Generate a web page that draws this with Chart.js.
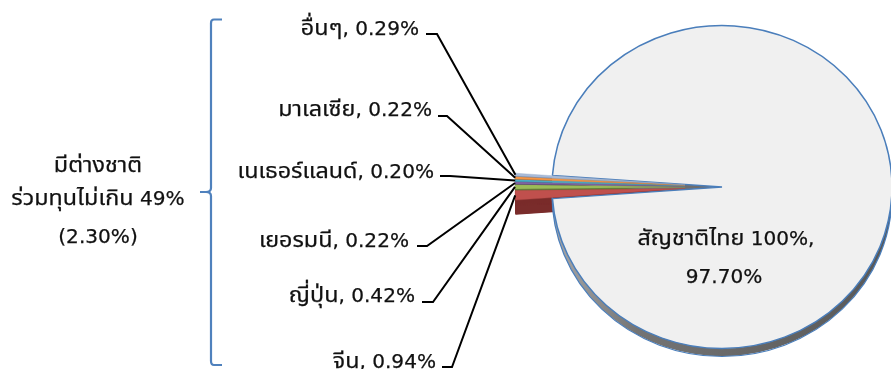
<!DOCTYPE html>
<html><head><meta charset="utf-8">
<script src="https://cdn.jsdelivr.net/npm/chart.js@4.4.1/dist/chart.umd.min.js"></script>
<style>html,body{margin:0;padding:0;background:#fff;overflow:hidden}#wrap{width:891px;height:369px;position:relative}</style>
</head><body><div id="wrap"><canvas id="c" width="891" height="369"></canvas></div>
<script>
// ---- data ----
const categories = ['สัญชาติไทย 100%', 'จีน', 'ญี่ปุ่น', 'เยอรมนี', 'เนเธอร์แลนด์', 'มาเลเซีย', 'อื่นๆ'];
const shares = [97.70, 0.94, 0.42, 0.22, 0.20, 0.22, 0.29];
const groupTitle = ['มีต่างชาติ', 'ร่วมทุนไม่เกิน 49%', '(2.30%)'];

// ---- styling / layout ----
const sliceColors = ['#f0f0f0', '#c0504d', '#9bbb59', '#8064a2', '#4bacc6', '#f79646', '#a9bbd8'];
const depthColors = [null, '#7a2c2b', '#5f7636', '#4e3d64', '#2f6c7c', '#9a5c2a', '#6b7c98'];
const THAI_FONT = '"Noto Sans Thai", "Noto Sans", "DejaVu Sans", sans-serif';
const LATIN_FONT = '"DejaVu Sans", "Noto Sans", sans-serif';
const RUN_STYLE = {thai: {size: 22, h: 1.06, family: THAI_FONT}, latin: {size: 19.5, h: 1.03, family: LATIN_FONT}};
const SQUASH = 0.95, DEPTH = 8, WEDGE_DEPTH = 15, EXPLODE = 37;
// label layout for slices 1..6: right edge x, baseline y, leader tick x1,x2,y
const labelLayout = {
  1: {x: 436, y: 368, t1: 442, t2: 452, ty: 367},
  2: {x: 415, y: 302, t1: 422, t2: 433, ty: 302},
  3: {x: 409, y: 247, t1: 417, t2: 427, ty: 246},
  4: {x: 434, y: 178, t1: 440, t2: 450, ty: 176},
  5: {x: 432, y: 116, t1: 438, t2: 447, ty: 116},
  6: {x: 419, y: 35,  t1: 426, t2: 437, ty: 34}
};
const titleLayout = {x: 98, y: [172, 205, 243]};

const total = shares.reduce((a, b) => a + b, 0);
const rotation = 270 - (shares[0] + (total - shares[0]) / 2) / total * 360;

function explodeOf(i) { return i === 0 ? 0 : EXPLODE; }

function arcGeom(arc, i) {
  const e = explodeOf(i);
  const mid = (arc.startAngle + arc.endAngle) / 2;
  return {x: arc.x + Math.cos(mid) * e, y: arc.y + Math.sin(mid) * e, r: arc.outerRadius, mid};
}

function drawMixed(ctx, txt, x, y, align) {
  const parts = txt.match(/[\u0E00-\u0E7F]+|[^\u0E00-\u0E7F]+/g) || [];
  const runs = parts.map(p => {
    const st = /[\u0E00-\u0E7F]/.test(p) ? RUN_STYLE.thai : RUN_STYLE.latin;
    ctx.font = st.size + 'px ' + st.family;
    return {p, st, w: ctx.measureText(p).width * st.h};
  });
  const W = runs.reduce((a, r) => a + r.w, 0);
  let px = align === 'right' ? x - W : align === 'center' ? x - W / 2 : x;
  runs.forEach(r => {
    ctx.save();
    ctx.font = r.st.size + 'px ' + r.st.family;
    ctx.translate(px, y);
    ctx.scale(r.st.h, 1);
    ctx.textAlign = 'left';
    ctx.textBaseline = 'alphabetic';
    ctx.fillText(r.p, 0, 0);
    ctx.lineWidth = 0.25;
    ctx.strokeStyle = ctx.fillStyle;
    ctx.strokeText(r.p, 0, 0);
    ctx.restore();
    px += r.w;
  });
}

const pie3d = {
  id: 'pie3d',
  beforeDatasetsDraw(chart) {
    const ctx = chart.ctx;
    const meta = chart.getDatasetMeta(0);
    const a0 = meta.data[0];
    const cx = a0.x, cy = a0.y, r = a0.outerRadius;
    // explode the small slices by translating the library's own arc drawing
    meta.data.forEach((arc, i) => {
      const e = explodeOf(i);
      if (!e || arc.$exploded) return;
      const baseDraw = Object.getPrototypeOf(arc).draw;
      arc.draw = function (c, area) {
        const mid = (this.startAngle + this.endAngle) / 2;
        c.save();
        c.translate(Math.cos(mid) * e, Math.sin(mid) * e);
        baseDraw.call(this, c, area);
        c.restore();
      };
      arc.$exploded = true;
    });
    ctx.save();
    ctx.translate(cx, cy); ctx.scale(1, SQUASH); ctx.translate(-cx, -cy);
    for (let i = meta.data.length - 1; i >= 0; i--) {
      const arc = meta.data[i];
      const g0 = arcGeom(arc, i);
      const d = (i === 0 ? DEPTH : WEDGE_DEPTH) / SQUASH;
      let fill;
      if (i === 0) {
        const g = ctx.createLinearGradient(cx - r, 0, cx + r, 0);
        g.addColorStop(0, '#a8a8a8');
        g.addColorStop(0.25, '#747474');
        g.addColorStop(1, '#575757');
        fill = g;
      } else fill = depthColors[i];
      ctx.fillStyle = fill;
      for (let k = 1; k <= d; k += 0.5) {
        ctx.beginPath();
        ctx.moveTo(g0.x, g0.y + k);
        ctx.arc(g0.x, g0.y + k, g0.r, arc.startAngle, arc.endAngle);
        ctx.closePath();
        ctx.fill();
      }
      if (i === 0) {
        ctx.beginPath();
        ctx.arc(cx, cy + d, r, 0, Math.PI);
        ctx.strokeStyle = '#4a7ebb';
        ctx.lineWidth = 1.2;
        ctx.stroke();
      }
    }
  },
  afterDatasetsDraw(chart) {
    chart.ctx.restore();
  },
  afterDraw(chart) {
    const ctx = chart.ctx;
    const meta = chart.getDatasetMeta(0);
    const a0 = meta.data[0];
    const cx = a0.x, cy = a0.y;
    ctx.save();
    ctx.fillStyle = '#111';
    meta.data.forEach((arc, i) => {
      if (i === 0) return;
      const L = labelLayout[i];
      const g0 = arcGeom(arc, i);
      const px = g0.x + Math.cos(g0.mid) * g0.r;
      const py = cy + (g0.y + Math.sin(g0.mid) * g0.r - cy) * SQUASH;
      ctx.beginPath();
      ctx.moveTo(L.t1, L.ty);
      ctx.lineTo(L.t2, L.ty);
      ctx.lineTo(px, py);
      ctx.strokeStyle = '#000';
      ctx.lineWidth = 2;
      ctx.stroke();
      drawMixed(ctx, categories[i] + ', ' + shares[i].toFixed(2) + '%', L.x, L.y, 'right');
    });
    drawMixed(ctx, categories[0] + ',', cx + 4, cy + 58, 'center');
    drawMixed(ctx, shares[0].toFixed(2) + '%', cx + 2, cy + 96, 'center');
    groupTitle.forEach((t, k) => drawMixed(ctx, t, titleLayout.x, titleLayout.y[k], 'center'));
    // brace
    ctx.beginPath();
    ctx.moveTo(222, 19.5);
    ctx.lineTo(214, 19.5);
    ctx.quadraticCurveTo(211, 19.5, 211, 23);
    ctx.lineTo(211, 188);
    ctx.quadraticCurveTo(211, 192, 206, 192);
    ctx.lineTo(200, 192);
    ctx.moveTo(206, 192);
    ctx.quadraticCurveTo(211, 192, 211, 196);
    ctx.lineTo(211, 361);
    ctx.quadraticCurveTo(211, 365, 214, 365);
    ctx.lineTo(222, 365);
    ctx.strokeStyle = '#4f81bd';
    ctx.lineWidth = 2.2;
    ctx.stroke();
    ctx.restore();
  }
};

new Chart(document.getElementById('c'), {
  type: 'pie',
  data: {
    labels: categories,
    datasets: [{
      data: shares,
      backgroundColor: sliceColors,
      borderColor: ['#4a7ebb', '#b04845', '#8aa84e', '#6f5690', '#3f9ab2', '#e08636', '#95a8c8'],
      borderWidth: [1.5, 0.4, 0.4, 0.4, 0.4, 0.4, 0.4],
      hoverOffset: 0,
      clip: false
    }]
  },
  options: {
    responsive: false,
    animation: false,
    events: [],
    rotation: rotation,
    radius: 170,
    layout: {padding: {left: 553, right: 0, top: 5, bottom: 0}},
    plugins: {legend: {display: false}, tooltip: {enabled: false}}
  },
  plugins: [pie3d]
});
</script>
</body></html>
